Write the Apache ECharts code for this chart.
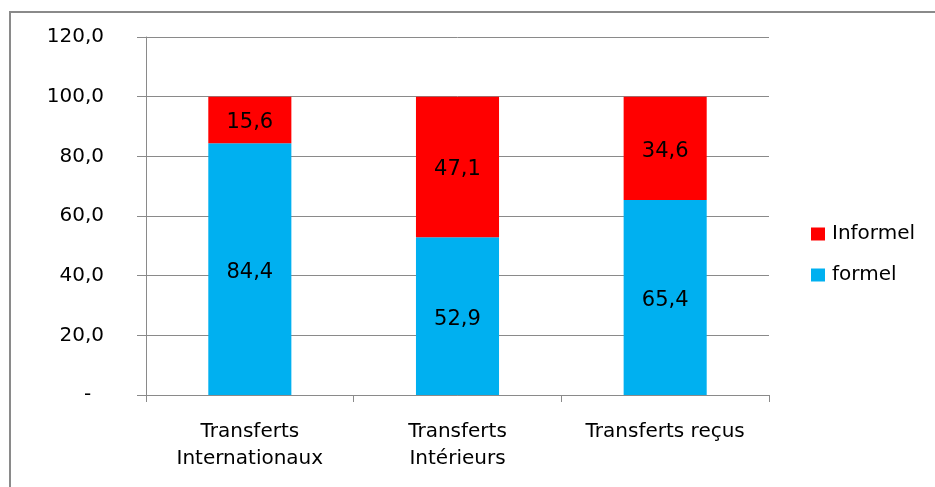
<!DOCTYPE html>
<html>
<head>
<meta charset="utf-8">
<script src="https://cdn.jsdelivr.net/npm/echarts@6/dist/echarts.min.js"></script>
<style>
  html, body { margin: 0; padding: 0; background: #fff; }
  #chart { width: 935px; height: 487px; }
</style>
</head>
<body>
<div id="chart"></div>
<script>
// Categories and stacked shares (%)
const categories = ['Transferts\nInternationaux', 'Transferts\nIntérieurs', 'Transferts reçus'];
const formel = [84.4, 52.9, 65.4];
const informel = [15.6, 47.1, 34.6];
const yTicks = { min: 0, max: 120, interval: 20 };

const FONT = '"DejaVu Sans", sans-serif';
const fmt = v => v.toFixed(1).replace('.', ',');

const chart = echarts.init(document.getElementById('chart'), null, { renderer: 'canvas' });

const segLabel = {
  show: true, position: 'inside', offset: [0, 3], color: '#000',
  fontFamily: FONT, fontSize: 21, formatter: p => fmt(p.value)
};

chart.setOption({
  animation: false,
  backgroundColor: '#fff',
  textStyle: { fontFamily: FONT },
  graphic: [{
    type: 'rect',
    shape: { x: 10, y: 12, width: 960, height: 500 },
    style: { fill: 'none', stroke: '#8a8a8a', lineWidth: 2 },
    silent: true
  }],
  grid: { left: 146, right: 166, top: 37, bottom: 92 },
  legend: {
    orient: 'vertical',
    left: 811,
    top: 224,
    padding: 0,
    itemWidth: 14,
    itemHeight: 13,
    itemGap: 21,
    icon: 'rect',
    textStyle: { fontFamily: FONT, fontSize: 20, color: '#000', padding: [0, 0, 0, 2] },
    data: ['Informel', 'formel']
  },
  xAxis: {
    type: 'category',
    data: categories,
    axisLine: { lineStyle: { color: '#8a8a8a', width: 1 } },
    axisTick: { show: true, length: 7, lineStyle: { color: '#8a8a8a' } },
    axisLabel: {
      color: '#000', fontFamily: FONT, fontSize: 20, margin: 23, lineHeight: 27, interval: 0
    }
  },
  yAxis: {
    type: 'value',
    min: yTicks.min,
    max: yTicks.max,
    interval: yTicks.interval,
    axisLine: { show: true, lineStyle: { color: '#8a8a8a', width: 1 } },
    axisTick: { show: true, length: 9, lineStyle: { color: '#8a8a8a' } },
    splitLine: { lineStyle: { color: '#8a8a8a', width: 1 } },
    axisLabel: {
      color: '#000', fontFamily: FONT, fontSize: 20, margin: 42,
      formatter: v => v === 0 ? '-  ' : fmt(v)
    }
  },
  series: [
    {
      name: 'formel',
      type: 'bar',
      stack: 'total',
      data: formel,
      barWidth: '40%',
      itemStyle: { color: '#00B0F0' },
      label: segLabel
    },
    {
      name: 'Informel',
      type: 'bar',
      stack: 'total',
      data: informel,
      barWidth: '40%',
      itemStyle: { color: '#FF0000' },
      label: segLabel
    }
  ]
});
</script>
</body>
</html>
